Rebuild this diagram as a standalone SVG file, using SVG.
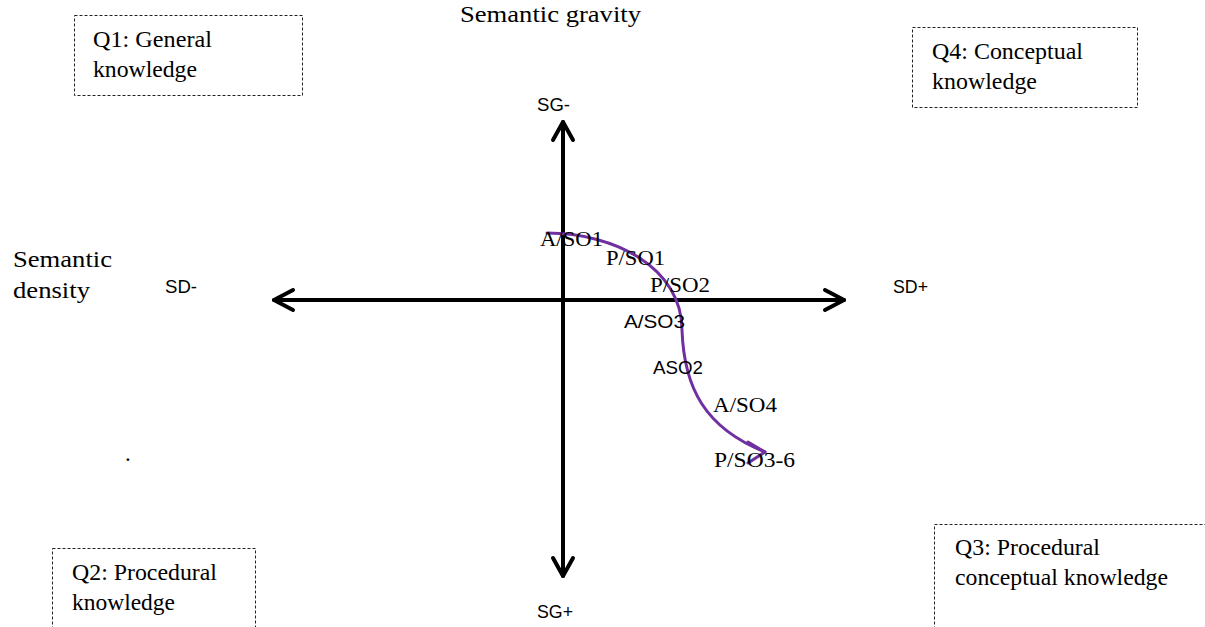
<svg xmlns="http://www.w3.org/2000/svg" width="1205" height="627" viewBox="0 0 1205 627">
<style>
.box{fill:none;stroke:#222;stroke-width:1;stroke-dasharray:3,2}
.serif{font-family:"Liberation Serif","Times New Roman",serif;fill:#000}
.big{font-size:23px}
.lab{font-size:21px}
.sans{font-family:"Liberation Sans",Arial,sans-serif;font-size:18px;fill:#000}
.axis{stroke:#000;stroke-width:4;fill:none;stroke-linecap:round;stroke-linejoin:round}
.flow{stroke:#7030A0;stroke-width:3;fill:none;stroke-linecap:round;stroke-linejoin:round}
</style>
<rect width="1205" height="627" fill="#fff"/>
<g id="q1">
<rect class="box" x="74.5" y="15.5" width="228" height="80"/>
<text class="serif big" x="93" y="47" textLength="119" lengthAdjust="spacingAndGlyphs">Q1: General</text>
<text class="serif big" x="93" y="77" textLength="104" lengthAdjust="spacingAndGlyphs">knowledge</text>
</g>
<g id="q4">
<rect class="box" x="912.5" y="27.5" width="225" height="80"/>
<text class="serif big" x="932" y="59" textLength="151" lengthAdjust="spacingAndGlyphs">Q4: Conceptual</text>
<text class="serif big" x="932" y="89" textLength="105" lengthAdjust="spacingAndGlyphs">knowledge</text>
</g>
<g id="q2">
<rect class="box" x="52.5" y="548.5" width="203" height="100"/>
<text class="serif big" x="72" y="580" textLength="145" lengthAdjust="spacingAndGlyphs">Q2: Procedural</text>
<text class="serif big" x="72" y="610" textLength="103" lengthAdjust="spacingAndGlyphs">knowledge</text>
</g>
<g id="q3">
<rect class="box" x="934.5" y="524.5" width="300" height="120"/>
<text class="serif big" x="955" y="555" textLength="145" lengthAdjust="spacingAndGlyphs">Q3: Procedural</text>
<text class="serif big" x="955" y="585" textLength="213" lengthAdjust="spacingAndGlyphs">conceptual knowledge</text>
</g>
<g id="titles">
<text class="serif big" x="460" y="22" textLength="181" lengthAdjust="spacingAndGlyphs">Semantic gravity</text>
<text class="serif big" x="13" y="267" textLength="99" lengthAdjust="spacingAndGlyphs">Semantic</text>
<text class="serif big" x="13" y="298" textLength="77" lengthAdjust="spacingAndGlyphs">density</text>
<text class="serif big" x="125" y="461">.</text>
</g>
<g id="axis-labels">
<text class="sans" x="537" y="111" textLength="33" lengthAdjust="spacingAndGlyphs">SG-</text>
<text class="sans" x="537" y="618" textLength="36" lengthAdjust="spacingAndGlyphs">SG+</text>
<text class="sans" x="165" y="293" textLength="32" lengthAdjust="spacingAndGlyphs">SD-</text>
<text class="sans" x="893" y="293" textLength="35" lengthAdjust="spacingAndGlyphs">SD+</text>
</g>
<g id="connectors">
<line class="axis" x1="563" y1="122" x2="563" y2="576"/>
<polyline class="axis" points="553,140 563,122 573,140"/>
<polyline class="axis" points="553,558 563,576 573,558"/>
<line class="axis" x1="274" y1="300" x2="844" y2="300"/>
<polyline class="axis" points="293,290 274,300 293,310"/>
<polyline class="axis" points="825,290 844,300 825,310"/>
<path class="flow" d="M547,233 C615,233 682,268 682,330 C684,388 705,428 765,452"/>
<polyline class="flow" points="748,442 765,452 748,463"/>
</g>
<g id="flow-labels">
<text class="serif lab" x="540" y="246" textLength="63" lengthAdjust="spacingAndGlyphs">A/SO1</text>
<text class="serif lab" x="606" y="265" textLength="59" lengthAdjust="spacingAndGlyphs">P/SO1</text>
<text class="serif lab" x="650" y="292" textLength="60" lengthAdjust="spacingAndGlyphs">P/SO2</text>
<text class="sans" x="624" y="328" textLength="61" lengthAdjust="spacingAndGlyphs">A/SO3</text>
<text class="sans" x="653" y="374" textLength="50" lengthAdjust="spacingAndGlyphs">ASO2</text>
<text class="serif lab" x="713" y="412" textLength="64" lengthAdjust="spacingAndGlyphs">A/SO4</text>
<text class="serif lab" x="714" y="467" textLength="81" lengthAdjust="spacingAndGlyphs">P/SO3-6</text>
</g>
</svg>
